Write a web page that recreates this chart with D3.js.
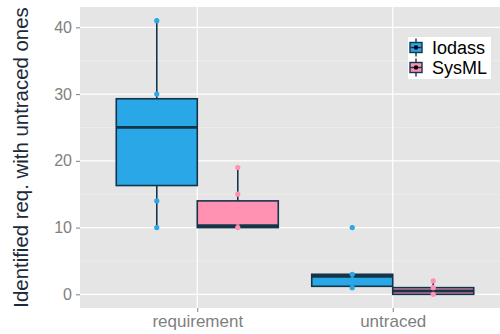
<!DOCTYPE html>
<html>
<head>
<meta charset="utf-8">
<script src="https://cdn.jsdelivr.net/npm/d3@7"></script>
<style>
body { margin: 0; background: #fff; }
text { font-family: "Liberation Sans", Arial, sans-serif; }
</style>
</head>
<body>
<div id="graph"></div>
<script>
var categories = ['requirement', 'untraced'];
var groups = ['Iodass', 'SysML'];
var groupColors = ['#29a7e6', '#ff92b3'];
var yTicks = [0, 10, 20, 30, 40];
var yMinor = [5, 15, 25, 35];

// box stats per category: [min, q1, median, q3, max]
var iodassStats = [[10, 16.3, 25, 29.3, 41], [1, 1.2, 2.7, 3, 3]];
var sysmlStats = [[10, 10, 10.3, 14, 19], [0, 0, 0.5, 1, 2]];
// observed points per category
var iodassPoints = [[10, 14, 30, 41], [1, 2.2, 3, 10]];
var sysmlPoints = [[10, 10.8, 15, 19], [0, 1, 2]];

var svgWidth = 500, svgHeight = 334;
var svg = d3.select('#graph').append('svg').attr('width', svgWidth).attr('height', svgHeight);

var panel = {left: 80, top: 7, right: 510, bottom: 308};

var x = d3.scalePoint().domain(categories).range([panel.left, panel.right]).padding(0.6);
var y = d3.scaleLinear().domain([-2.05, 43.05]).range([panel.bottom, panel.top]);
var dodge = d3.scaleBand().domain(groups).range([-81, 81]);

svg.append('rect')
  .attr('x', panel.left).attr('y', panel.top)
  .attr('width', panel.right - panel.left).attr('height', panel.bottom - panel.top)
  .attr('fill', '#e5e5e5');

svg.selectAll('.minor').data(yMinor).enter().append('line')
  .attr('x1', panel.left).attr('x2', panel.right)
  .attr('y1', function(d) { return y(d); }).attr('y2', function(d) { return y(d); })
  .attr('stroke', '#f2f2f2').attr('stroke-width', 0.6);

svg.selectAll('.major').data(yTicks).enter().append('line')
  .attr('x1', panel.left).attr('x2', panel.right)
  .attr('y1', function(d) { return y(d); }).attr('y2', function(d) { return y(d); })
  .attr('stroke', '#fff').attr('stroke-width', 1.2);

svg.selectAll('.vmajor').data(categories).enter().append('line')
  .attr('x1', function(d) { return x(d); }).attr('x2', function(d) { return x(d); })
  .attr('y1', panel.top).attr('y2', panel.bottom)
  .attr('stroke', '#fff').attr('stroke-width', 1.2);

// axes
var yAxis = svg.append('g').attr('transform', 'translate(' + panel.left + ',0)')
  .call(d3.axisLeft(y).tickValues(yTicks).tickSize(4).tickPadding(4));
yAxis.select('.domain').remove();
yAxis.selectAll('line').attr('stroke', '#7f7f7f');
yAxis.selectAll('text').attr('fill', '#7f7f7f').style('font-size', '16px')
  .style('font-family', '"Liberation Sans", Arial, sans-serif');

var xAxis = svg.append('g').attr('transform', 'translate(0,' + panel.bottom + ')')
  .call(d3.axisBottom(x).tickSize(4).tickPadding(3));
xAxis.select('.domain').remove();
xAxis.selectAll('line').attr('stroke', '#7f7f7f');
xAxis.selectAll('text').attr('fill', '#7f7f7f').style('font-size', '17px')
  .style('font-family', '"Liberation Sans", Arial, sans-serif');

svg.append('text')
  .attr('transform', 'translate(28,' + ((panel.top + panel.bottom) / 2) + ') rotate(-90)')
  .attr('text-anchor', 'middle')
  .attr('fill', '#1c2b3a')
  .style('font-size', '20.4px')
  .text('Identified req. with untraced ones');

// boxes
var boxStroke = '#14344a';
function drawGroup(name, stats, points, color) {
  var g = svg.append('g');
  categories.forEach(function(c, i) {
    var s = stats[i];
    var x0 = x(c) + dodge(name), w = dodge.bandwidth(), cx = x0 + w / 2;
    g.append('line').attr('x1', cx).attr('x2', cx)
      .attr('y1', y(s[0])).attr('y2', y(s[4]))
      .attr('stroke', boxStroke).attr('stroke-width', 1.6);
    g.append('rect').attr('x', x0).attr('y', y(s[3]))
      .attr('width', w).attr('height', y(s[1]) - y(s[3]))
      .attr('fill', color).attr('stroke', boxStroke).attr('stroke-width', 1.6);
    g.append('line').attr('x1', x0).attr('x2', x0 + w)
      .attr('y1', y(s[2])).attr('y2', y(s[2]))
      .attr('stroke', boxStroke).attr('stroke-width', 2.8);
    g.selectAll('.pt' + i).data(points[i]).enter().append('circle')
      .attr('cx', cx).attr('cy', function(d) { return y(d); })
      .attr('r', 2.6).attr('fill', color);
  });
}
drawGroup('Iodass', iodassStats, iodassPoints, groupColors[0]);
drawGroup('SysML', sysmlStats, sysmlPoints, groupColors[1]);

// legend
var legend = svg.append('g');
legend.append('rect').attr('x', 408).attr('y', 37).attr('width', 83).attr('height', 42).attr('fill', '#fff');
groups.forEach(function(name, i) {
  var cy = 47.5 + i * 20;
  var k = legend.append('g');
  k.append('line').attr('x1', 416).attr('x2', 416).attr('y1', cy - 9).attr('y2', cy + 9)
    .attr('stroke', boxStroke).attr('stroke-width', 1.4);
  k.append('rect').attr('x', 410).attr('y', cy - 5).attr('width', 12).attr('height', 10)
    .attr('fill', groupColors[i]).attr('stroke', boxStroke).attr('stroke-width', 1.4);
  k.append('line').attr('x1', 410).attr('x2', 422).attr('y1', cy).attr('y2', cy)
    .attr('stroke', boxStroke).attr('stroke-width', 1.4);
  k.append('circle').attr('cx', 416).attr('cy', cy).attr('r', 2.2).attr('fill', '#000');
  legend.append('text').attr('x', 432).attr('y', cy + 6.5)
    .attr('fill', '#000').style('font-size', '18px').text(name);
});
</script>
</body>
</html>
